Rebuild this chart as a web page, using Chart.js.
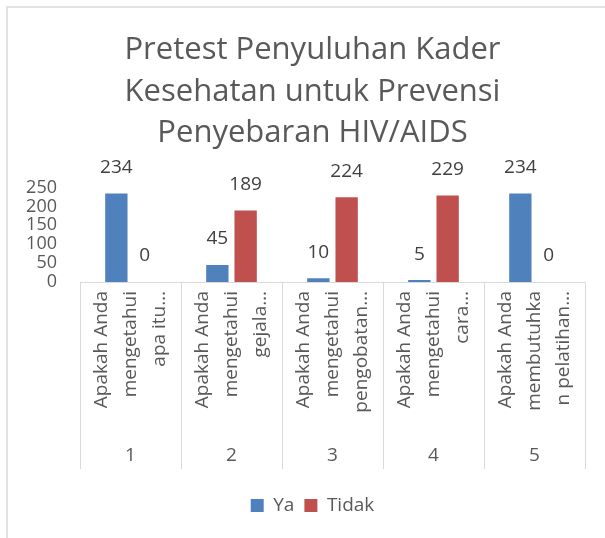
<!DOCTYPE html>
<html lang="id">
<head>
<meta charset="UTF-8" />
<title>Pretest Penyuluhan Kader Kesehatan</title>
<script src="https://cdn.jsdelivr.net/npm/chart.js@4.4.0/dist/chart.umd.min.js"></script>
<style>
  html, body { margin: 0; padding: 0; background: #fff; }
  #wrap { width: 605px; height: 538px; position: relative; }
</style>
</head>
<body>
<div id="wrap"><canvas id="myChart"></canvas></div>
<script>
// data
const questions = [
  ["Apakah Anda", "mengetahui", "apa itu…"],
  ["Apakah Anda", "mengetahui", "gejala…"],
  ["Apakah Anda", "mengetahui", "pengobatan…"],
  ["Apakah Anda", "mengetahui", "cara…"],
  ["Apakah Anda", "membutuhka", "n pelatihan…"]
];
const numbers = ["1", "2", "3", "4", "5"];
const ya = [234, 45, 10, 5, 234];
const tidak = [0, 189, 224, 229, 0];
const yMax = 250;
const yStep = 50;

const grey = "#595959";
const lineGrey = "#d9d9d9";
const family = "'Open Sans', sans-serif";
const numberRowHeight = 37;

// outer frame (top and left edge of the chart box)
const framePlugin = {
  id: "frame",
  beforeDraw(chart) {
    const ctx = chart.ctx;
    ctx.save();
    ctx.fillStyle = "#fff";
    ctx.fillRect(0, 0, chart.width, chart.height);
    ctx.strokeStyle = "#e3e3e3";
    ctx.lineWidth = 2;
    ctx.beginPath();
    ctx.moveTo(7, chart.height);
    ctx.lineTo(7, 7);
    ctx.lineTo(chart.width, 7);
    ctx.stroke();
    ctx.restore();
  }
};

// category boxes below the plot, like Excel's multi-level axis
const boxesPlugin = {
  id: "boxes",
  afterDraw(chart) {
    const ctx = chart.ctx;
    const x = chart.scales.x;
    const x2 = chart.scales.x2;
    const top = chart.chartArea.bottom;
    const bottom = x2.top + numberRowHeight;
    ctx.save();
    ctx.strokeStyle = lineGrey;
    ctx.lineWidth = 1;
    ctx.beginPath();
    ctx.moveTo(x.left, top + 0.5);
    ctx.lineTo(x.right, top + 0.5);
    for (let i = 0; i <= numbers.length; i++) {
      const px = Math.round(x.getPixelForValue(i - 0.5)) + 0.5;
      ctx.moveTo(px, top);
      ctx.lineTo(px, bottom);
    }
    ctx.stroke();
    ctx.restore();
  }
};

// value labels above the bars
const valuePlugin = {
  id: "values",
  afterDatasetsDraw(chart) {
    const ctx = chart.ctx;
    ctx.save();
    ctx.font = "19px " + family;
    ctx.fillStyle = "#404040";
    ctx.textAlign = "center";
    ctx.textBaseline = "middle";
    chart.data.datasets.forEach((ds, di) => {
      chart.getDatasetMeta(di).data.forEach((bar, i) => {
        ctx.fillText(String(ds.data[i]), bar.x, bar.y - 26);
      });
    });
    ctx.restore();
  }
};

function noSidePadding(s) {
  s.paddingLeft = 0;
  s.paddingRight = 0;
}

const ctx = document.getElementById("myChart").getContext("2d");
const chart = new Chart(ctx, {
  type: "bar",
  data: {
    labels: questions,
    datasets: [
      {
        label: "Ya",
        data: ya,
        backgroundColor: "#4F81BD",
        categoryPercentage: 0.56,
        barPercentage: 0.79
      },
      {
        label: "Tidak",
        data: tidak,
        backgroundColor: "#C0504D",
        categoryPercentage: 0.56,
        barPercentage: 0.79
      }
    ]
  },
  options: {
    responsive: true,
    maintainAspectRatio: false,
    animation: false,
    layout: { padding: { left: 20, right: 0, top: 0, bottom: 13 } },
    plugins: {
      title: {
        display: true,
        text: ["Pretest Penyuluhan Kader", "Kesehatan untuk Prevensi", "Penyebaran HIV/AIDS"],
        color: grey,
        font: { family: family, size: 31, weight: "normal", lineHeight: 1.35 },
        padding: { top: 29, bottom: 33 }
      },
      legend: {
        position: "bottom",
        labels: {
          color: grey,
          font: { family: family, size: 19 },
          boxWidth: 13,
          boxHeight: 13,
          padding: 10
        }
      },
      tooltip: { enabled: false }
    },
    scales: {
      y: {
        min: 0,
        max: yMax,
        ticks: {
          stepSize: yStep,
          autoSkip: false,
          padding: 23,
          color: grey,
          font: { family: family, size: 18 }
        },
        grid: { display: false, drawTicks: false },
        border: { display: false },
        afterFit(s) { s.width = 60; }
      },
      yRight: {
        position: "right",
        display: true,
        ticks: { display: false },
        grid: { display: false, drawTicks: false },
        border: { display: false },
        afterFit(s) { s.width = 20; }
      },
      x: {
        offset: true,
        ticks: {
          autoSkip: false,
          minRotation: 90,
          maxRotation: 90,
          padding: 9,
          labelOffset: -29,
          color: grey,
          font: { family: family, size: 19, lineHeight: 1.53 }
        },
        grid: { display: false, drawTicks: false },
        border: { display: false },
        afterFit(s) { s.height = 150; noSidePadding(s); }
      },
      x2: {
        type: "category",
        labels: numbers,
        position: "bottom",
        offset: true,
        ticks: {
          padding: 12,
          color: grey,
          font: { family: family, size: 19 }
        },
        grid: { display: false, drawTicks: false },
        border: { display: false },
        afterFit(s) { s.height = numberRowHeight + 17; noSidePadding(s); }
      }
    }
  },
  plugins: [framePlugin, boxesPlugin, valuePlugin]
});
</script>
</body>
</html>
